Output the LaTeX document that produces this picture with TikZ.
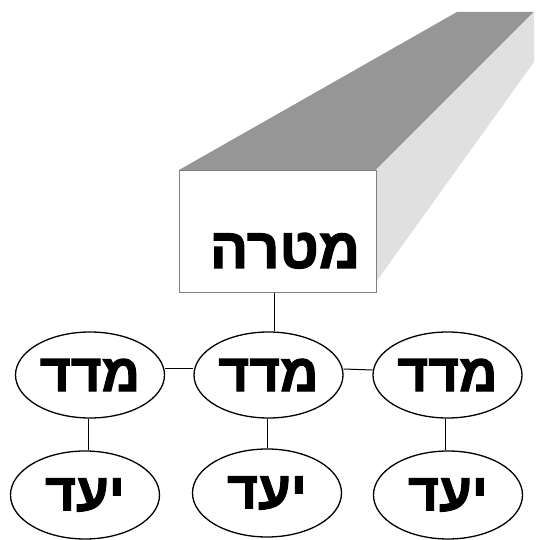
\documentclass[tikz,border=0pt]{standalone}
\usepackage{fontspec}
\usetikzlibrary{calc,shapes.geometric}
\newfontfamily\hebfont[Script=Hebrew,BoldFont={Liberation Sans Bold},BoldFeatures={FakeBold=2}]{Liberation Sans}
\TeXXeTstate=1

\definecolor{topgray}{gray}{0.59}
\definecolor{sidegray}{gray}{0.88}
\definecolor{facegray}{gray}{0.5}

\tikzset{
  measure/.style={ellipse,draw,line width=1.3pt,minimum width=149pt,minimum height=86pt,inner sep=0pt,font=\hebfont\bfseries\fontsize{53}{53}\selectfont},
  target/.style={measure,minimum height=88pt},
  link/.style={line width=1pt}
}

\begin{document}
\begin{tikzpicture}[x=1pt,y=-1pt]
    \useasboundingbox (0,0) rectangle (542,540);

    % the goal block, pushed back to the upper right
    \coordinate (ftl) at (179,170);
    \coordinate (ftr) at (376,170);
    \coordinate (fbr) at (376,282);
    \coordinate (btl) at (457,12);
    \coordinate (btr) at (534,12);
    \coordinate (bbr) at (534,62);
    \fill[topgray] (ftl) -- (ftr) -- (btr) -- (btl) -- cycle;
    \fill[sidegray] (ftr) -- (btr) -- (bbr) -- (fbr) -- cycle;
    \node[draw=facegray,fill=white,line width=1pt,minimum width=197pt,minimum height=122pt,inner sep=0pt] (goal) at (277.5,231.5) {};
    \node[anchor=base,inner sep=0pt,font=\hebfont\bfseries\fontsize{57}{57}\selectfont] (goaltext) at (285,268) {\beginR מטרה\endR};

    % measures and their targets
    \node[measure] (m1) at (90,375) {\beginR מדד\endR};
    \node[measure] (m2) at (268.5,375) {\beginR מדד\endR};
    \node[measure] (m3) at (447.5,375) {\beginR מדד\endR};
    \node[target] (t1) at (85,495) {\beginR יעד\endR};
    \node[target] (t2) at (267,493) {\beginR יעד\endR};
    \node[target] (t3) at (448,495) {\beginR יעד\endR};

    \draw[link] ([xshift=-3pt]goal.south) -- ([xshift=-3pt]goal.south |- m2.north);
    \draw[link] ([yshift=6pt]m1.east) -- ([yshift=6pt]m2.west);
    \draw[link] ([yshift=6pt]m2.east) -- ([yshift=5pt]m3.west);
    \draw[link] ([xshift=-2pt]m1.south) -- ([xshift=-2pt]m1.south |- t1.north);
    \draw[link] ([xshift=-1pt]m2.south) -- ([xshift=-1pt]m2.south |- t2.north);
    \draw[link] ([xshift=-2pt]m3.south) -- ([xshift=-2pt]m3.south |- t3.north);
\end{tikzpicture}
\end{document}
